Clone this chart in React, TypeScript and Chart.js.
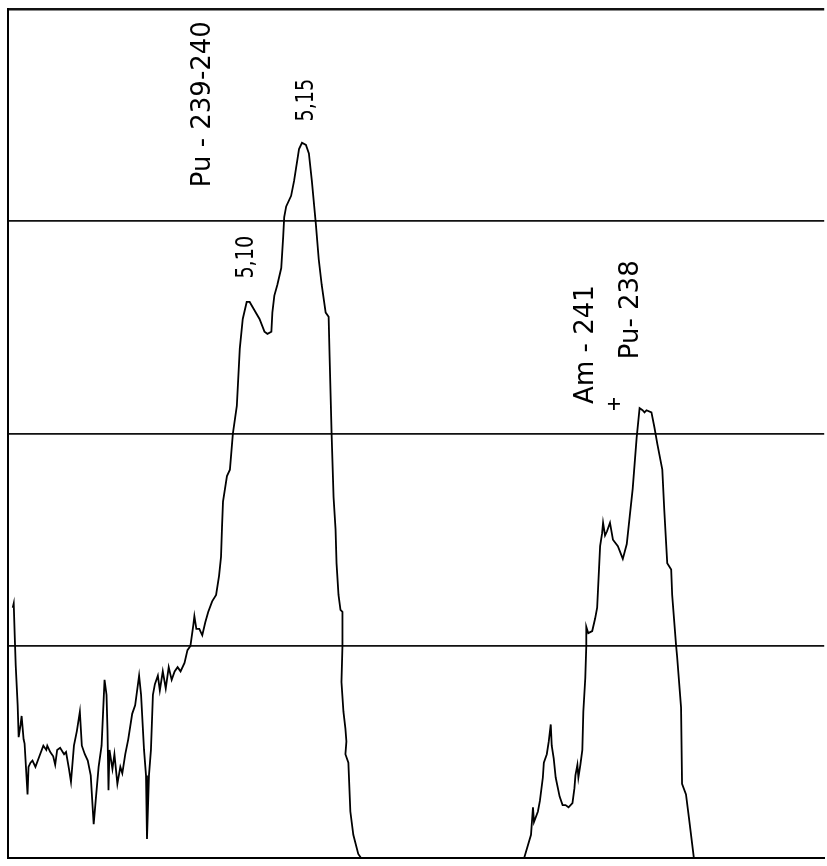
import React, { useEffect, useRef } from "react";
import { Chart, registerables } from "chart.js";

Chart.register(...registerables);

// Spectrum trace: channel number vs counts
const channels = [
  5, 6, 7, 8, 10, 11, 13, 14, 16, 17, 20, 21, 23, 25, 28, 32, 36, 39, 40, 43,
  46, 48, 50, 53, 57, 59, 62, 64, 67, 70, 73, 75, 78, 81, 84, 87, 89, 92, 95, 98,
  100, 101, 102, 103, 106, 108, 111, 114, 116, 119, 122, 126, 129, 133, 135, 138, 140, 141, 143, 145,
  147, 149, 152, 154, 157, 160, 163, 166, 169, 172, 175, 179, 182, 185, 188, 189, 191, 194, 197, 200,
  203, 207, 211, 214, 216, 217, 218, 222, 225, 228, 232, 235, 238, 242, 245, 250, 255, 260, 263, 267,
  268, 270, 273, 277, 279, 280, 282, 287, 290, 292, 293, 295, 298, 302, 305, 308, 312, 315, 318, 322,
  325, 326, 328, 330, 332, 333, 335, 337, 339, 339, 338, 340, 342, 343, 342, 345, 347, 350, 355, 358,
  523, 530, 532, 533, 537, 539, 542, 543, 546, 548, 550, 551, 553, 555, 559, 562, 565, 568, 572, 574,
  575, 577, 578, 580, 582, 583, 585, 586, 586, 588, 592, 595, 597, 600, 602, 603, 605, 607, 610, 613,
  618, 623, 627, 630, 633, 637, 640, 643, 645, 647, 652, 655, 658, 663, 665, 668, 672, 673, 677, 678,
  682, 683, 687, 690, 695, 826,
];
const counts = [
  118, 120, 105, 91, 72, 57, 63, 67, 56, 54, 30, 43, 45, 46, 43, 48, 53, 51, 53, 50,
  48, 44, 51, 52, 49, 50, 42, 36, 53, 60, 69, 53, 49, 46, 39, 16, 27, 43, 53, 84,
  77, 60, 32, 51, 42, 49, 35, 43, 40, 49, 56, 68, 72, 86, 77, 51, 39, 9, 39, 51,
  77, 82, 86, 79, 88, 80, 90, 84, 88, 90, 88, 92, 98, 100, 110, 114, 108, 108, 105, 111,
  116, 121, 124, 133, 142, 156, 168, 180, 183, 200, 213, 240, 254, 262, 262, 258, 254, 248, 247, 248,
  257, 265, 270, 278, 293, 302, 307, 312, 319, 325, 328, 334, 337, 336, 332, 319, 299, 282, 270, 257,
  255, 236, 200, 170, 155, 139, 124, 117, 116, 100, 83, 69, 61, 55, 49, 45, 22, 11, 2, 0,
  0, 11, 24, 17, 22, 27, 38, 45, 49, 55, 63, 53, 47, 38, 29, 25, 25, 24, 26, 33,
  39, 44, 38, 44, 51, 69, 85, 100, 109, 106, 107, 113, 118, 147, 153, 158, 152, 154, 158, 150,
  147, 141, 148, 161, 174, 198, 212, 211, 210, 211, 210, 203, 195, 183, 164, 139, 136, 124, 100, 95,
  71, 35, 30, 19, 0, 0,
];

// Peak annotations (rotated text), anchored at the start of the text
const peakLabels = ["Pu - 239-240", "5,15", "5,10", "Am - 241", "Pu- 238"];
const labelChannels = [198, 303, 242, 586, 632];
const labelCounts = [316, 347, 273, 214, 235];

// Cross marker
const markerChannels = [614];
const markerCounts = [214];

const xMin = 0;
const xMax = 827;
const yMin = 0;
const yMax = 400;
const yStep = 100;

const labelPlugin = {
  id: "peakLabels",
  afterDatasetsDraw(chart: any) {
    const { ctx, scales } = chart;
    ctx.save();
    ctx.fillStyle = "#000";
    ctx.textAlign = "left";
    ctx.textBaseline = "middle";
    peakLabels.forEach((t, i) => {
      const px = scales.x.getPixelForValue(labelChannels[i]);
      const py = scales.y.getPixelForValue(labelCounts[i]);
      const short = t.length <= 4;
      ctx.font = short ? "24px 'DejaVu Sans'" : "26px 'DejaVu Sans'";
      ctx.save();
      ctx.translate(px, py);
      ctx.rotate(-Math.PI / 2);
      if (short) ctx.scale(0.8, 1);
      ctx.fillText(t, 0, 0);
      ctx.restore();
    });
    ctx.restore();
  },
};

export default function App() {
  const ref = useRef<HTMLCanvasElement | null>(null);
  useEffect(() => {
    if (!ref.current) return;
    const chart = new Chart(ref.current, {
      type: "line",
      data: {
        datasets: [
          {
            data: channels.map((c, i) => ({ x: c, y: counts[i] })),
            borderColor: "#000",
            borderWidth: 1.8,
            pointRadius: 0,
            tension: 0,
            fill: false,
          },
          {
            type: "scatter",
            data: markerChannels.map((c, i) => ({ x: c, y: markerCounts[i] })),
            pointStyle: "cross",
            pointRadius: 6,
            borderColor: "#000",
            borderWidth: 1.8,
          } as any,
        ],
      },
      options: {
        responsive: false,
        animation: false,
        layout: { padding: { left: 5, top: 9, right: 0, bottom: 2 } },
        plugins: { legend: { display: false }, tooltip: { enabled: false } },
        scales: {
          x: {
            type: "linear",
            min: xMin,
            max: xMax,
            ticks: { display: false },
            grid: { display: false, drawTicks: false },
            border: { display: true, color: "#000", width: 2 },
          },
          y: {
            type: "linear",
            min: yMin,
            max: yMax,
            ticks: { display: false, stepSize: yStep },
            grid: {
              color: "#111",
              lineWidth: (c: any) => (c.tick && c.tick.value === yMax ? 2.5 : 1.8),
              drawTicks: false,
            },
            border: { display: true, color: "#000", width: 2 },
          },
        },
      },
      plugins: [labelPlugin],
    });
    return () => chart.destroy();
  }, []);
  return (
    <div
      style={{
        position: "absolute",
        left: 0,
        top: 0,
        width: 827,
        height: 866,
        overflow: "hidden",
        background: "#fff",
      }}
    >
      <canvas ref={ref} width={832} height={866} style={{ display: "block" }} />
    </div>
  );
}
